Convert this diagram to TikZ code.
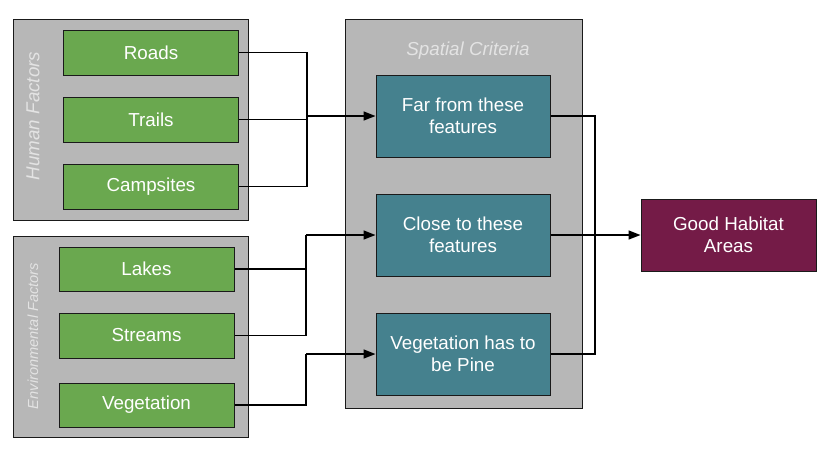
\documentclass[tikz,border=0pt]{standalone}
\usepackage{fontspec}
\setmainfont{Liberation Sans}
\usetikzlibrary{arrows.meta}
\definecolor{grn}{HTML}{6AA84F}
\definecolor{teal}{HTML}{45818E}
\definecolor{maroon}{HTML}{741B47}
\definecolor{panel}{HTML}{B7B7B7}
\definecolor{edge}{HTML}{1A1A1A}
\definecolor{ttl}{HTML}{E3E3E3}
\begin{document}
\begin{tikzpicture}[x=1pt,y=-1pt,
  panelbox/.style={draw=edge,fill=panel,line width=1pt},
  box/.style={draw=edge,line width=1pt,text=white,align=center,inner sep=0pt,
    font=\fontsize{18.8}{22}\selectfont},
  factor/.style={box,fill=grn,minimum width=175pt,minimum height=45pt},
  crit/.style={box,fill=teal,minimum width=174pt,minimum height=82pt},
  result/.style={box,fill=maroon,minimum width=175pt,minimum height=72pt},
  paneltitle/.style={text=ttl,font=\itshape\fontsize{18.8}{22}\selectfont,inner sep=0pt},
  link/.style={line width=1.5pt,black},
  arr/.style={link,-{Triangle[length=12pt,width=9pt]}}]
\useasboundingbox (0,0) rectangle (840,451);
% panels
\path[panelbox] (13,19) rectangle (248,220);
\path[panelbox] (13,236) rectangle (248,437);
\path[panelbox] (345,19) rectangle (582,408);
\node[paneltitle,rotate=90] (ht) at (33,116) {Human Factors};
\node[paneltitle,rotate=90,font=\itshape\fontsize{14.6}{17}\selectfont] (et) at (33,336) {Environmental Factors};
\node[paneltitle] (st) at (468,51) {Spatial Criteria};
% factor boxes
\node[factor] (roads) at (151,52.5) {Roads};
\node[factor] (trails) at (151,119.5) {Trails};
\node[factor] (camp) at (151,186.5) {Campsites};
\node[factor,minimum height=44pt] (lakes) at (146.5,269) {Lakes};
\node[factor] (streams) at (146.5,335.5) {Streams};
\node[factor,minimum height=44pt] (veg) at (146.5,405) {Vegetation};
% criteria
\node[crit] (far) at (463,116) {Far from these\\features};
\node[crit] (close) at (463,235) {Close to these\\features};
\node[crit] (pine) at (463,354) {Vegetation has to\\be Pine};
\node[result] (good) at (728.5,235) {Good Habitat\\Areas};
% junctions
\coordinate (jh) at (307,116);
\coordinate (je) at (306,235);
\coordinate (jv) at (306,354);
\coordinate (jo) at (595,235);
% connectors
\draw[link] (roads.east) -| (jh);
\draw[link] (trails.east) -| (jh);
\draw[link] (camp.east) -| (jh);
\draw[arr] (jh) -- (far.west);
\draw[link] (lakes.east) -| (je);
\draw[link] (streams.east) -| (je);
\draw[arr] (je) -- (close.west);
\draw[link] (veg.east) -| (jv);
\draw[arr] (jv) -- (pine.west);
\draw[link] (far.east) -| (jo);
\draw[link] (pine.east) -| (jo);
\draw[arr] (close.east) -- (good.west);
\end{tikzpicture}
\end{document}
